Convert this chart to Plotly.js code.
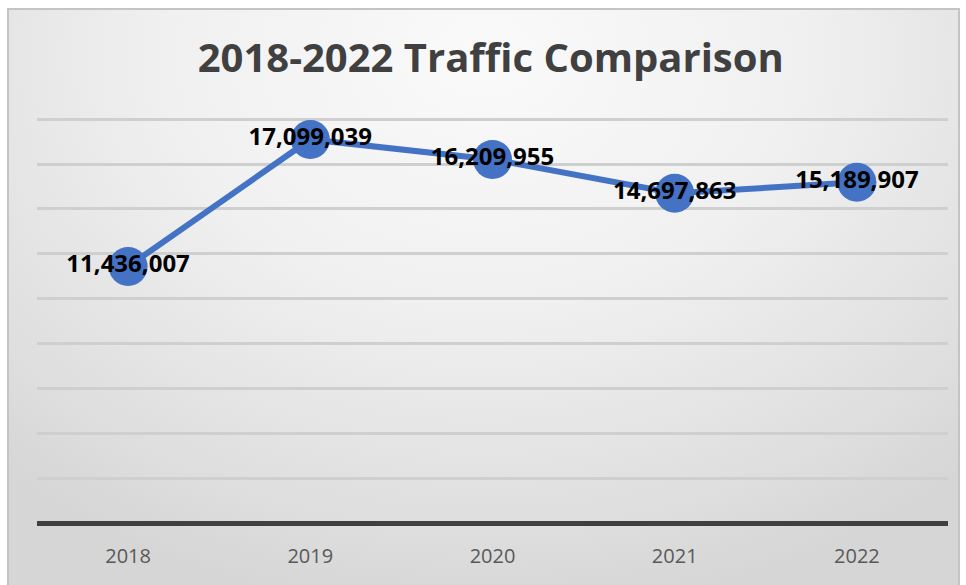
<!DOCTYPE html>
<html>
<head>
<meta charset="utf-8">
<script src="https://cdn.plot.ly/plotly-3.0.1.min.js"></script>
<style>
  html, body { margin: 0; padding: 0; background: #ffffff; }
  #wrap { position: relative; width: 966px; height: 585px; overflow: hidden; }
  #frame {
    position: absolute; left: 7px; top: 8px; width: 953px; height: 590px;
    border: 2px solid #c4c4c4; box-sizing: border-box;
    background: radial-gradient(ellipse 75% 95% at 50% 8%, #fafafa 0%, #f0f0f0 45%, #dedede 85%, #d6d6d6 100%);
  }
  #chart { position: absolute; left: 0; top: 0; width: 966px; height: 585px; }
</style>
</head>
<body>
<div id="wrap">
  <div id="frame"></div>
  <div id="chart"></div>
</div>
<script>
const years = ['2018', '2019', '2020', '2021', '2022'];
const traffic = [11436007, 17099039, 16209955, 14697863, 15189907];

const trace = {
  x: years,
  y: traffic,
  type: 'scatter',
  mode: 'lines+markers+text',
  line: { color: '#4472C4', width: 6 },
  marker: { color: '#4472C4', size: 39 },
  texttemplate: '%{y:,}',
  textposition: 'middle center',
  textfont: { family: 'Open Sans, sans-serif', size: 24, color: '#000000', weight: 'bold' },
  cliponaxis: false,
  hoverinfo: 'x+y'
};

const layout = {
  width: 966,
  height: 585,
  paper_bgcolor: 'rgba(0,0,0,0)',
  plot_bgcolor: 'rgba(0,0,0,0)',
  margin: { l: 37, r: 18, t: 117, b: 62 },
  showlegend: false,
  title: {
    text: '<b>2018-2022 Traffic Comparison</b>',
    font: { family: 'Open Sans, sans-serif', size: 40, color: '#404040' },
    x: 0.508, xanchor: 'center',
    y: 1 - 58 / 585, yanchor: 'middle', yref: 'container'
  },
  xaxis: {
    type: 'category',
    range: [-0.5, 4.5],
    showgrid: false,
    showline: false,
    ticks: '',
    tickfont: { family: 'Open Sans, sans-serif', size: 20, color: '#595959' },
    ticklabelstandoff: 19,
    fixedrange: true
  },
  yaxis: {
    range: [0, 18100000],
    dtick: 2000000,
    showticklabels: false,
    showgrid: true,
    gridcolor: '#cfcfcf',
    gridwidth: 3,
    zeroline: true,
    zerolinecolor: '#404040',
    zerolinewidth: 5,
    fixedrange: true
  }
};

Plotly.newPlot('chart', [trace], layout, { displayModeBar: false, staticPlot: true });
</script>
</body>
</html>
